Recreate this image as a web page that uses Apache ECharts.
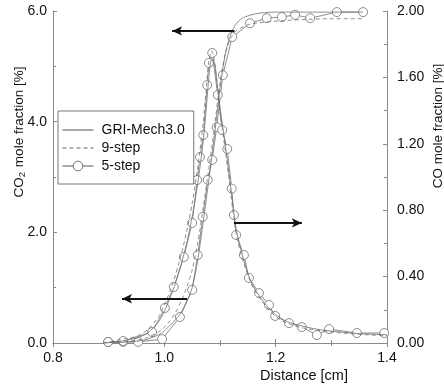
<!DOCTYPE html>
<html>
<head>
<meta charset="utf-8">
<script src="https://cdn.jsdelivr.net/npm/echarts@6/dist/echarts.min.js"></script>
<style>html,body{margin:0;padding:0;background:#fff}#c{width:444px;height:387px}</style>
</head>
<body>
<div id="c"></div>
<script>
// ---- data ----
const xTicks = [0.8, 1.0, 1.2, 1.4];
const leftTicks = [0.0, 2.0, 4.0, 6.0];
const rightTicks = [0.00, 0.40, 0.80, 1.20, 1.60, 2.00];
const legendNames = ['GRI-Mech3.0', '9-step', '5-step'];

// CO2 mole fraction [%] (left axis)
const griCO2x = [0.89, 0.92, 0.95, 0.97, 0.99, 1.00, 1.01, 1.02, 1.03, 1.04, 1.05, 1.06, 1.07, 1.08, 1.09, 1.10, 1.11, 1.12, 1.13, 1.14, 1.16, 1.18, 1.20, 1.25, 1.30, 1.357];
const griCO2y = [0.00, 0.01, 0.03, 0.07, 0.15, 0.22, 0.32, 0.42, 0.55, 0.75, 1.00, 1.50, 2.20, 2.95, 3.75, 4.60, 5.25, 5.60, 5.78, 5.87, 5.94, 5.97, 5.98, 5.98, 5.98, 5.98];
const nsCO2x = [0.89, 0.92, 0.95, 0.97, 0.99, 1.00, 1.01, 1.02, 1.03, 1.04, 1.05, 1.06, 1.07, 1.08, 1.09, 1.10, 1.11, 1.12, 1.13, 1.15, 1.18, 1.22, 1.26, 1.30, 1.357];
const nsCO2y = [0.00, 0.02, 0.05, 0.10, 0.20, 0.28, 0.40, 0.55, 0.75, 1.00, 1.32, 1.80, 2.45, 3.15, 3.90, 4.70, 5.25, 5.52, 5.65, 5.75, 5.80, 5.83, 5.85, 5.86, 5.86];
const fsCO2x = [0.899, 0.926, 0.953, 0.996, 1.028, 1.050, 1.060, 1.069, 1.078, 1.086, 1.094, 1.105, 1.122, 1.154, 1.184, 1.211, 1.235, 1.262, 1.310, 1.357];
const fsCO2y = [0.02, 0.02, 0.02, 0.07, 0.47, 0.96, 1.59, 2.28, 2.95, 3.31, 3.90, 4.84, 5.53, 5.78, 5.87, 5.89, 5.93, 5.87, 5.98, 5.98];

// CO mole fraction [%] (right axis)
const griCOx = [0.89, 0.92, 0.95, 0.97, 0.99, 1.00, 1.01, 1.02, 1.03, 1.04, 1.05, 1.06, 1.07, 1.075, 1.08, 1.085, 1.09, 1.095, 1.10, 1.105, 1.11, 1.115, 1.12, 1.125, 1.13, 1.14, 1.15, 1.16, 1.18, 1.20, 1.22, 1.25, 1.28, 1.32, 1.36, 1.40];
const griCOy = [0.00, 0.01, 0.03, 0.06, 0.13, 0.19, 0.27, 0.36, 0.47, 0.60, 0.76, 0.96, 1.22, 1.40, 1.60, 1.71, 1.69, 1.56, 1.42, 1.30, 1.18, 1.05, 0.92, 0.78, 0.67, 0.53, 0.42, 0.34, 0.24, 0.17, 0.13, 0.10, 0.08, 0.065, 0.055, 0.05];
const nsCOx = [0.89, 0.92, 0.95, 0.97, 0.99, 1.00, 1.01, 1.02, 1.03, 1.04, 1.05, 1.06, 1.07, 1.075, 1.08, 1.085, 1.09, 1.095, 1.10, 1.105, 1.11, 1.115, 1.12, 1.125, 1.13, 1.14, 1.15, 1.16, 1.18, 1.20, 1.22, 1.25, 1.28, 1.32, 1.36, 1.40];
const nsCOy = [0.00, 0.02, 0.04, 0.08, 0.16, 0.23, 0.31, 0.41, 0.53, 0.67, 0.84, 1.06, 1.33, 1.52, 1.70, 1.76, 1.70, 1.55, 1.40, 1.27, 1.15, 1.02, 0.88, 0.75, 0.64, 0.51, 0.41, 0.33, 0.23, 0.16, 0.12, 0.09, 0.075, 0.06, 0.05, 0.045];
const fsCOx = [0.899, 0.926, 0.978, 1.001, 1.017, 1.035, 1.050, 1.059, 1.064, 1.070, 1.077, 1.080, 1.086, 1.096, 1.104, 1.113, 1.121, 1.125, 1.129, 1.143, 1.152, 1.170, 1.188, 1.199, 1.224, 1.247, 1.274, 1.296, 1.346, 1.395];
const fsCOy = [0.006, 0.012, 0.066, 0.211, 0.337, 0.518, 0.723, 0.982, 1.120, 1.253, 1.554, 1.687, 1.747, 1.494, 1.283, 1.169, 0.930, 0.771, 0.651, 0.530, 0.392, 0.301, 0.229, 0.163, 0.120, 0.096, 0.048, 0.084, 0.060, 0.060];

// arrows: [x0, x1, y(left-axis units)]
const arrowCO2 = [1.126, 1.014, 5.64];
const arrowCOright = [1.125, 1.247, 2.17];
const arrowCO2low = [1.041, 0.924, 0.80];

const zip = (xs, ys) => xs.map((x, i) => [x, ys[i]]);
const FONT = "'Liberation Sans', Arial, Helvetica, sans-serif";
const arrowLine = a => [{coord: [a[0], a[2]], symbol: 'none'}, {coord: [a[1], a[2]], symbol: 'arrow'}];

const chart = echarts.init(document.getElementById('c'), null, {renderer: 'canvas'});
const axisLineStyle = {color: '#8a8a8a', width: 1};
const labelStyle = {color: '#111', fontSize: 14, fontFamily: FONT};

const LC = '#707070';
const solid = {color: LC, width: 0.8, type: 'solid'};
const dashed = {color: LC, width: 0.8, type: [4, 3]};
const circ = {color: LC, width: 0.8, type: 'solid'};
const hiddenSym = {color: 'rgba(0,0,0,0)', borderColor: 'rgba(0,0,0,0)', borderWidth: 0, opacity: 0};
const circStyle = {color: '#fff', borderColor: LC, borderWidth: 0.8};

chart.setOption({
  animation: false,
  backgroundColor: '#fff',
  grid: {left: 53, right: 57, top: 11, bottom: 44},
  legend: {
    orient: 'vertical', left: 58, top: 111,
    padding: [11, 9, 10, 4],
    backgroundColor: '#fff', borderColor: '#777', borderWidth: 1, borderRadius: 0,
    itemWidth: 31, itemHeight: 12, itemGap: 2,
    textStyle: {color: '#111', fontSize: 14, fontFamily: FONT, lineHeight: 16, padding: [0, 0, 0, 3]},
    data: [
      {name: legendNames[0], itemStyle: hiddenSym, lineStyle: {color: '#555', width: 1, type: 'solid'}},
      {name: legendNames[1], itemStyle: hiddenSym, lineStyle: {color: '#666', width: 1, type: [4, 3]}},
      {name: legendNames[2], lineStyle: {color: '#555', width: 1, type: 'solid'}, itemStyle: {color: '#fff', borderColor: '#666', borderWidth: 0.9}}
    ]
  },
  xAxis: [
    {type: 'value', position: 'bottom', min: xTicks[0], max: xTicks[xTicks.length - 1], interval: 0.2,
     axisLine: {lineStyle: axisLineStyle}, axisTick: {inside: true, length: 4, lineStyle: axisLineStyle},
     minorTick: {show: true, splitNumber: 2, length: 3, lineStyle: axisLineStyle},
     axisLabel: Object.assign({margin: 8, formatter: v => v.toFixed(1)}, labelStyle),
     splitLine: {show: false}},
    {type: 'value', position: 'top', min: xTicks[0], max: xTicks[xTicks.length - 1], interval: 0.2,
     axisLine: {lineStyle: axisLineStyle}, axisTick: {inside: true, length: 4, lineStyle: axisLineStyle},
     minorTick: {show: true, splitNumber: 2, length: 3, lineStyle: axisLineStyle},
     axisLabel: {show: false}, splitLine: {show: false}}
  ],
  yAxis: [
    {type: 'value', position: 'left', min: leftTicks[0], max: leftTicks[leftTicks.length - 1], interval: 2,
     axisLine: {show: true, lineStyle: axisLineStyle}, axisTick: {show: true, inside: true, length: 4, lineStyle: axisLineStyle},
     minorTick: {show: true, splitNumber: 2, length: 3, lineStyle: axisLineStyle},
     axisLabel: Object.assign({margin: 6, formatter: v => v.toFixed(1)}, labelStyle),
     splitLine: {show: false}},
    {type: 'value', position: 'right', min: rightTicks[0], max: rightTicks[rightTicks.length - 1], interval: 0.4,
     axisLine: {show: true, lineStyle: axisLineStyle}, axisTick: {show: true, inside: true, length: 4, lineStyle: axisLineStyle},
     minorTick: {show: true, splitNumber: 2, length: 3, lineStyle: axisLineStyle},
     axisLabel: Object.assign({margin: 10, formatter: v => v.toFixed(2)}, labelStyle),
     splitLine: {show: false}}
  ],
  series: [
    {name: legendNames[0], type: 'line', yAxisIndex: 0, data: zip(griCO2x, griCO2y), smooth: 0.25, showSymbol: false, symbol: 'none', lineStyle: solid, itemStyle: {color: LC}, z: 3,
     markLine: {silent: true, symbolSize: [7, 10], label: {show: false}, lineStyle: {color: '#111', width: 2, type: 'solid'},
       data: [arrowLine(arrowCO2), arrowLine(arrowCOright), arrowLine(arrowCO2low)]}},
    {name: legendNames[0], type: 'line', yAxisIndex: 1, data: zip(griCOx, griCOy), smooth: 0.25, showSymbol: false, symbol: 'none', lineStyle: solid, itemStyle: {color: LC}, z: 3},
    {name: legendNames[1], type: 'line', yAxisIndex: 0, data: zip(nsCO2x, nsCO2y), smooth: 0.25, showSymbol: false, symbol: 'none', lineStyle: dashed, itemStyle: {color: LC}, z: 3},
    {name: legendNames[1], type: 'line', yAxisIndex: 1, data: zip(nsCOx, nsCOy), smooth: 0.25, showSymbol: false, symbol: 'none', lineStyle: dashed, itemStyle: {color: LC}, z: 3},
    {name: legendNames[2], type: 'line', yAxisIndex: 0, data: zip(fsCO2x, fsCO2y), symbol: 'circle', symbolSize: 9, lineStyle: circ, itemStyle: circStyle, z: 2},
    {name: legendNames[2], type: 'line', yAxisIndex: 1, data: zip(fsCOx, fsCOy), symbol: 'circle', symbolSize: 9, lineStyle: circ, itemStyle: circStyle, z: 2}
  ],
  graphic: [
    {type: 'text', x: 19, y: 132, rotation: Math.PI / 2,
     style: {text: 'CO{sub|2} mole fraction [%]', fill: '#111', fontSize: 13.5, fontFamily: FONT, align: 'center', verticalAlign: 'middle',
       rich: {sub: {fontSize: 9.5, fontFamily: FONT, fill: '#111', verticalAlign: 'bottom', padding: [6, 1, 0, 0]}}}},
    {type: 'text', x: 438, y: 126, rotation: Math.PI / 2,
     style: {text: 'CO mole fraction [%]', fill: '#111', fontSize: 13.5, fontFamily: FONT, align: 'center', verticalAlign: 'middle'}},
    {type: 'text', x: 304, y: 376,
     style: {text: 'Distance [cm]', fill: '#111', fontSize: 14.5, fontFamily: FONT, align: 'center', verticalAlign: 'middle'}}
  ]
});
</script>
</body>
</html>
